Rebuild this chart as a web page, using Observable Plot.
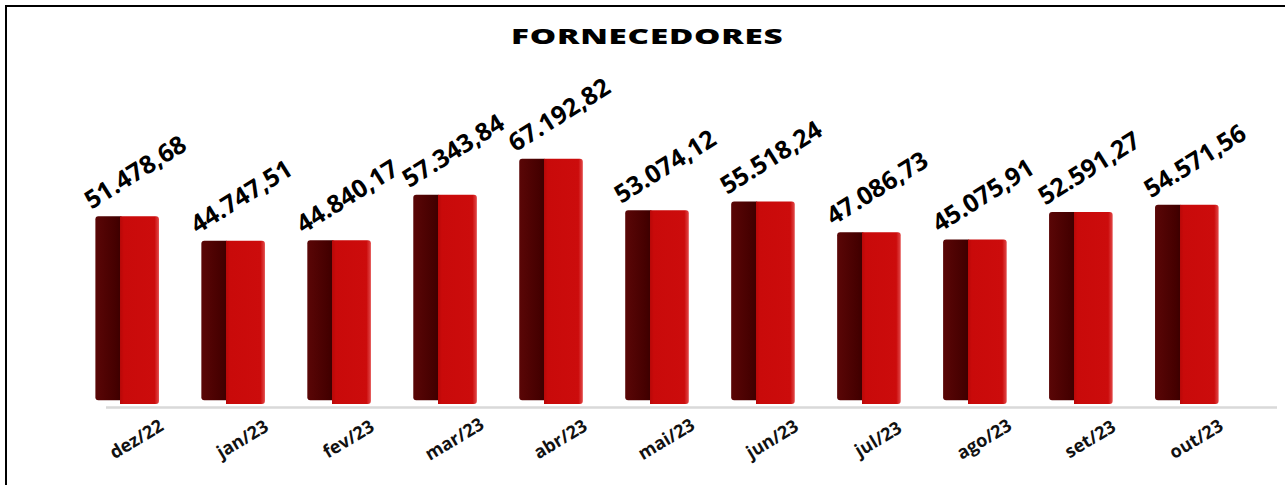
<!DOCTYPE html>
<html lang="pt-BR">
<head>
<meta charset="utf-8">
<script src="https://cdn.jsdelivr.net/npm/d3@7"></script>
<script src="https://cdn.jsdelivr.net/npm/@observablehq/plot@0.6"></script>
<style>
  html, body { margin: 0; padding: 0; background: #fff; overflow: hidden; }
  body { width: 1285px; height: 485px; position: relative; font-family: "Open Sans", sans-serif; }
  #frame {
    position: absolute; left: 5px; top: 5px; width: 1300px; height: 500px;
    border-top: 2.5px solid #000; border-left: 2.5px solid #000; pointer-events: none;
  }
  #title {
    height: 50px; display: flex; align-items: flex-end; justify-content: center;
    padding-left: 9px; box-sizing: border-box;
  }
  #title span {
    font-size: 21px; font-weight: 800; letter-spacing: 0.5px; color: #000;
    line-height: 28px; transform: scaleX(1.58); display: inline-block;
  }
  #chart svg { display: block; overflow: visible; }
</style>
</head>
<body>
<div id="frame"></div>
<div id="chart">
  <div id="title"><span>FORNECEDORES</span></div>
</div>
<script>
// Monthly totals paid to suppliers
const months = ["dez/22", "jan/23", "fev/23", "mar/23", "abr/23", "mai/23",
                "jun/23", "jul/23", "ago/23", "set/23", "out/23"];
const values = [51478.68, 44747.51, 44840.17, 57343.84, 67192.82, 53074.12,
                55518.24, 47086.73, 45075.91, 52591.27, 54571.56];

const rows = months.map((month, i) => ({month, value: values[i]}));

// Brazilian number format: 51.478,68
const brl = d3.formatLocale({decimal: ",", thousands: ".", grouping: [3], currency: ["R$", ""]}).format(",.2f");

const chart = Plot.plot({
  width: 1285,
  height: 435,
  marginTop: 42,
  marginBottom: 81,
  marginLeft: 53,
  marginRight: 24,
  style: {fontFamily: "'Open Sans', sans-serif", background: "transparent"},
  x: {domain: months, padding: 0.4, round: false, axis: null},
  y: {domain: [0, 85500], axis: null},
  marks: [
    // floor line under the columns
    Plot.ruleY([0], {stroke: "#d9d9d9", strokeWidth: 2.5, dy: 3, dx: 16, insetLeft: 37}),
    // dark side face, ending a little above the floor (tucked under the front face)
    Plot.barY(rows, {x: "month", y1: 1000, y2: "value", fill: "url(#sideShade)", insetRight: 36, rx: 3}),
    // lit front face of each column
    Plot.barY(rows, {x: "month", y: "value", fill: "url(#frontShade)", rx: 3}),
    // value labels
    Plot.text(rows, {
      x: "month", y: "value", text: d => brl(d.value),
      rotate: -32, dx: 8, dy: -44,
      textAnchor: "middle", lineAnchor: "middle",
      fontSize: 25, fontWeight: "bold", fill: "#000"
    }),
    Plot.axisX({
      tickSize: 0, tickPadding: 0, tickRotate: -31,
      textAnchor: "middle", lineAnchor: "middle",
      dx: 9, dy: 35, fontSize: 18, fontWeight: "bold", fill: "#111", label: null
    })
  ]
});

// gradients for the two faces of the columns
const ns = "http://www.w3.org/2000/svg";
const defs = document.createElementNS(ns, "defs");
defs.innerHTML = `
  <linearGradient id="frontShade" x1="0" y1="0" x2="1" y2="0">
    <stop offset="0" stop-color="#c00808" stop-opacity="0"/>
    <stop offset="0.39" stop-color="#c00808" stop-opacity="0"/>
    <stop offset="0.392" stop-color="#b80808"/>
    <stop offset="0.45" stop-color="#c90a0a"/>
    <stop offset="0.93" stop-color="#cc0c0c"/>
    <stop offset="1" stop-color="#e24a4a"/>
  </linearGradient>
  <linearGradient id="sideShade" x1="0" y1="0" x2="1" y2="0">
    <stop offset="0" stop-color="#5a0606"/>
    <stop offset="0.75" stop-color="#450000"/>
    <stop offset="1" stop-color="#380000"/>
  </linearGradient>`;
chart.insertBefore(defs, chart.firstChild);

document.getElementById("chart").appendChild(chart);
</script>
</body>
</html>
